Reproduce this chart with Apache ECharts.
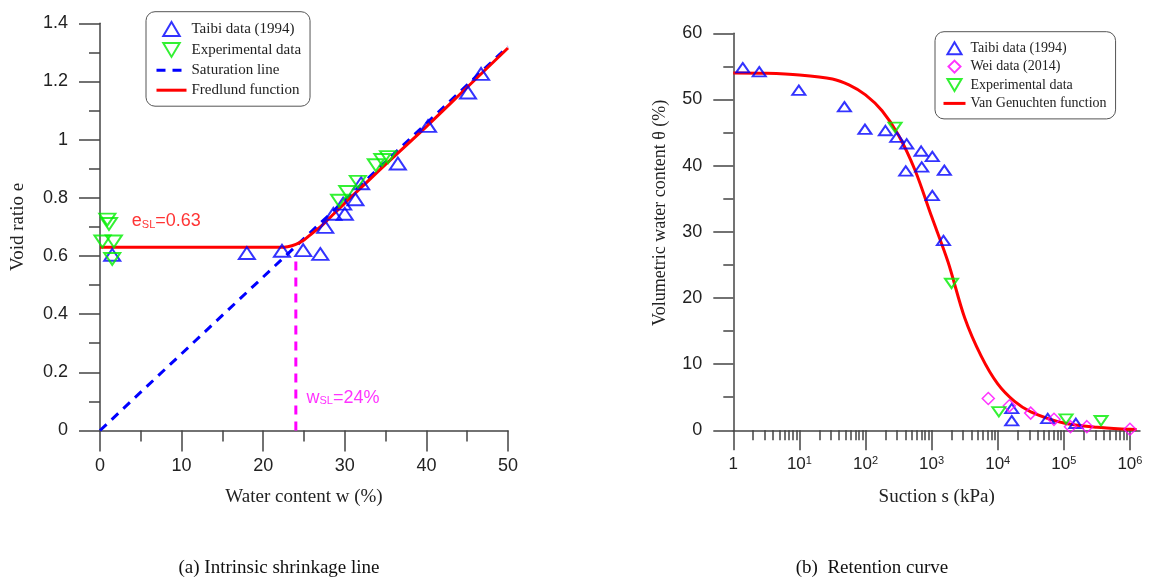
<!DOCTYPE html>
<html><head><meta charset="utf-8">
<script src="https://cdn.jsdelivr.net/npm/echarts@6/dist/echarts.min.js"></script>
<style>html,body{margin:0;padding:0;background:#fff}#c{width:1152px;height:581px}</style>
</head><body><div id="c"></div>
<script>
// ---------- (a) Intrinsic shrinkage line ----------
const shrinkTaibi = [[1.5,0.604],[18.0,0.61],[22.3,0.618],[24.9,0.62],[27.0,0.607],[27.6,0.70],[28.6,0.745],[29.8,0.78],[30.0,0.745],[31.3,0.795],[32.0,0.85],[36.5,0.918],[40.2,1.047],[45.1,1.162],[46.7,1.226]];
const shrinkExp = [[0.9,0.725],[1.1,0.71],[0.3,0.65],[1.7,0.65],[1.5,0.59],[29.3,0.79],[30.3,0.82],[31.6,0.855],[33.8,0.912],[34.6,0.93],[35.3,0.94]];
const saturationLine = [[0,0],[50,1.32]];
const fredlundCurve = [[0,0.63],[22,0.63],[23,0.632],[24,0.64],[25,0.655],[26,0.678],[27,0.70],[28,0.727],[30,0.782],[32,0.835],[35,0.915],[40,1.045],[45,1.18],[50,1.315]];
const wslLine = [[24,0],[24,0.6]];
const eslLabelAt = [[3.9,0.72]];
const wslLabelAt = [[25.3,0.112]];
const shrinkLegend = ['Taibi data (1994)','Experimental data','Saturation line','Fredlund function'];

// ---------- (b) Retention curve ----------
const retTaibi = [[1.39,54.8],[2.47,54.2],[9.8,51.4],[48,48.9],[98,45.5],[200,45.3],[297,44.3],[420,43.3],[694,42.2],[1024,41.4],[406,39.2],[708,39.8],[1557,39.3],[1024,35.5],[1510,28.7],[16300,3.3],[16300,1.45],[57000,1.8],[152000,1.05]];
const retWei = [[7200,4.8],[15000,3.7],[31500,2.6],[71000,1.66],[126000,0.55],[223000,0.55],[1000000,0.15]];
const retExp = [[280,45.8],[2000,22.2],[10400,2.8],[108000,1.7],[366000,1.45]];
const vanGenuchten = [[1,54.0],[3.16,53.95],[10,53.7],[31.6,53.1],[56.2,52.2],[100,50.7],[178,48.3],[316,44.6],[562,39.3],[1000,32.3],[1778,25.4],[3162,17.0],[5623,11.2],[10000,7.0],[17783,4.4],[31623,2.8],[100000,1.1],[316228,0.45],[1000000,0.15],[1260000,0.12]];
const retMajorTicks = [1,10,100,1000,10000,100000,1000000];
const retMinorTicks = [];
[1,10,100,1000,10000,100000].forEach(d => [2,3,4,5,6,7,8,9].forEach(m => retMinorTicks.push(d*m)));
const retLegend = ['Taibi data (1994)','Wei data (2014)','Experimental data','Van Genuchten function'];

const SERIF = 'Liberation Serif';
const SANS = 'Liberation Sans';
const AX = '#444';
const upTri = 'path://M10,0 L20,17 L0,17 Z';
const downTri = 'path://M0,0 L20,0 L10,17 Z';
const diamond = 'path://M10,0 L20,10 L10,20 L0,10 Z';
const NOFILL = 'rgba(0,0,0,0)';

const chart = echarts.init(document.getElementById('c'), null, {renderer:'canvas'});

function baseAxis(extra){
  return Object.assign({
    splitLine:{show:false},
    axisLine:{show:true, lineStyle:{color:AX, width:1.5}},
    axisTick:{show:true, length:21, lineStyle:{color:AX, width:1.5}},
    minorTick:{show:true, splitNumber:2, length:11, lineStyle:{color:AX, width:1.5}},
    axisLabel:{fontFamily:SANS, fontSize:18, color:'#222'},
    nameTextStyle:{fontFamily:SERIF, fontSize:19, color:'#222'},
    nameLocation:'middle'
  }, extra);
}

const option = {
  animation:false,
  backgroundColor:'#fff',
  grid:[
    {left:100, top:23.3, width:408, height:407.2},
    {left:733.3, top:33.3, width:406.7, height:397}
  ],
  xAxis:[
    baseAxis({gridIndex:0, type:'value', min:0, max:50, interval:10, name:'Water content w (%)', nameGap:57,
      axisLabel:{fontFamily:SANS, fontSize:18, color:'#222', margin:27}}),
    baseAxis({gridIndex:1, type:'log', logBase:10, min:1, max:1.42e6, position:'bottom', name:'Suction s (kPa)', nameGap:57,
      minorTick:{show:false},
      axisTick:{show:true, length:20, customValues:retMajorTicks, lineStyle:{color:AX, width:1.5}},
      axisLabel:{customValues:retMajorTicks, margin:25, color:'#222', fontFamily:SANS,
        formatter:function(v){ const n = Math.round(Math.log10(v)); return n===0 ? '{b|1}' : '{b|10}{s|'+n+'}'; },
        rich:{b:{fontFamily:SANS, fontSize:17, lineHeight:18, color:'#222'}, s:{fontFamily:SANS, fontSize:11, lineHeight:4, verticalAlign:'top', color:'#222'}}}}),
    {gridIndex:1, type:'log', logBase:10, min:1, max:1.42e6, position:'bottom',
      splitLine:{show:false}, axisLine:{show:false}, axisLabel:{show:false},
      axisTick:{show:true, length:10, customValues:retMinorTicks, lineStyle:{color:AX, width:1.5}}}
  ],
  yAxis:[
    baseAxis({gridIndex:0, type:'value', min:0, max:1.4, interval:0.2, name:'Void ratio e', nameGap:72,
      axisLabel:{fontFamily:SANS, fontSize:18, color:'#222', margin:32}}),
    baseAxis({gridIndex:1, type:'value', min:0, max:60, interval:10, name:'Volumetric water content θ (%)', nameGap:64,
      axisTick:{show:true, length:20, lineStyle:{color:AX, width:1.5}},
      minorTick:{show:true, splitNumber:2, length:10, lineStyle:{color:AX, width:1.5}},
      axisLabel:{fontFamily:SANS, fontSize:18, color:'#222', margin:31},
      nameTextStyle:{fontFamily:SERIF, fontSize:18, color:'#222', padding:[0,0,0,38]}})
  ],
  legend:[
    {data:shrinkLegend, left:146, top:11.7, orient:'vertical', itemWidth:30, itemHeight:14, itemGap:4.9,
      padding:[9.3,9,8.5,9], borderColor:'#555', borderWidth:1, borderRadius:9, backgroundColor:'#fff',
      lineStyle:{width:3},
      textStyle:{fontFamily:SERIF, fontSize:15, color:'#222'}, selectedMode:false},
    {data:retLegend, left:935, top:31.7, orient:'vertical', itemWidth:22, itemHeight:12, itemGap:4.4,
      padding:[9.5,9,8.5,7], borderColor:'#555', borderWidth:1, borderRadius:9, backgroundColor:'#fff',
      lineStyle:{width:3},
      textStyle:{fontFamily:SERIF, fontSize:14, color:'#222'}, selectedMode:false}
  ],
  graphic:[
    {type:'text', x:279, y:568, style:{text:'(a) Intrinsic shrinkage line', font:'19px "Liberation Serif"', fill:'#111', textAlign:'center', textVerticalAlign:'middle'}},
    {type:'text', x:872, y:568, style:{text:'(b)  Retention curve', font:'19px "Liberation Serif"', fill:'#111', textAlign:'center', textVerticalAlign:'middle'}}
  ],
  series:[
    {name:'Saturation line', type:'line', xAxisIndex:0, yAxisIndex:0, data:saturationLine, symbol:'circle', symbolSize:0, showSymbol:false,
      lineStyle:{color:'#0000ff', width:3, type:[9,7]}, itemStyle:{color:NOFILL, borderWidth:0}, z:2},
    {name:'Fredlund function', type:'line', xAxisIndex:0, yAxisIndex:0, data:fredlundCurve, symbol:'circle', symbolSize:0, showSymbol:false, smooth:0.3,
      lineStyle:{color:'#ff0000', width:3}, itemStyle:{color:NOFILL, borderWidth:0}, z:3},
    {name:'wsl', type:'line', xAxisIndex:0, yAxisIndex:0, data:wslLine, symbol:'none', showSymbol:false,
      lineStyle:{color:'#ff00ff', width:3, type:[9,7]}, z:2},
    {name:'Taibi data (1994)', type:'scatter', xAxisIndex:0, yAxisIndex:0, data:shrinkTaibi, symbol:upTri, symbolSize:[16,14], symbolKeepAspect:true,
      itemStyle:{color:NOFILL, borderColor:'#0000ff', borderWidth:2}, z:4},
    {name:'Experimental data', type:'scatter', xAxisIndex:0, yAxisIndex:0, data:shrinkExp, symbol:downTri, symbolSize:[16,14], symbolKeepAspect:true,
      itemStyle:{color:NOFILL, borderColor:'#00ee00', borderWidth:2}, z:4},
    {name:'esl', type:'scatter', xAxisIndex:0, yAxisIndex:0, data:eslLabelAt, symbolSize:0, silent:true,
      label:{show:true, position:'right', distance:0, formatter:'{m|e}{s|SL}{m|=0.63}',
        rich:{m:{fontFamily:SANS, fontSize:18, lineHeight:18, color:'#ff0000'}, s:{fontFamily:SANS, fontSize:11, lineHeight:8, verticalAlign:'bottom', color:'#ff0000'}}}},
    {name:'wslLabel', type:'scatter', xAxisIndex:0, yAxisIndex:0, data:wslLabelAt, symbolSize:0, silent:true,
      label:{show:true, position:'right', distance:0, formatter:'{m|w}{s|SL}{m|=24%}',
        rich:{m:{fontFamily:SANS, fontSize:18, lineHeight:18, color:'#ff00ff'}, s:{fontFamily:SANS, fontSize:11, lineHeight:8, verticalAlign:'bottom', color:'#ff00ff'}}}},

    {name:'Van Genuchten function', type:'line', xAxisIndex:1, yAxisIndex:1, data:vanGenuchten, symbol:'circle', symbolSize:0, showSymbol:false, smooth:0.3,
      lineStyle:{color:'#ff0000', width:3}, itemStyle:{color:NOFILL, borderWidth:0}, z:3},
    {name:'Taibi data (1994)', type:'scatter', xAxisIndex:1, yAxisIndex:1, data:retTaibi, symbol:upTri, symbolSize:[13,11], symbolKeepAspect:true,
      itemStyle:{color:NOFILL, borderColor:'#0000ff', borderWidth:2}, z:4},
    {name:'Wei data (2014)', type:'scatter', xAxisIndex:1, yAxisIndex:1, data:retWei, symbol:diamond, symbolSize:[12,12], symbolKeepAspect:true,
      itemStyle:{color:NOFILL, borderColor:'#ff00ff', borderWidth:1.5}, z:4},
    {name:'Experimental data', type:'scatter', xAxisIndex:1, yAxisIndex:1, data:retExp, symbol:downTri, symbolSize:[13,11], symbolKeepAspect:true,
      itemStyle:{color:NOFILL, borderColor:'#00ee00', borderWidth:2}, z:4}
  ]
};
chart.setOption(option);
</script></body></html>
